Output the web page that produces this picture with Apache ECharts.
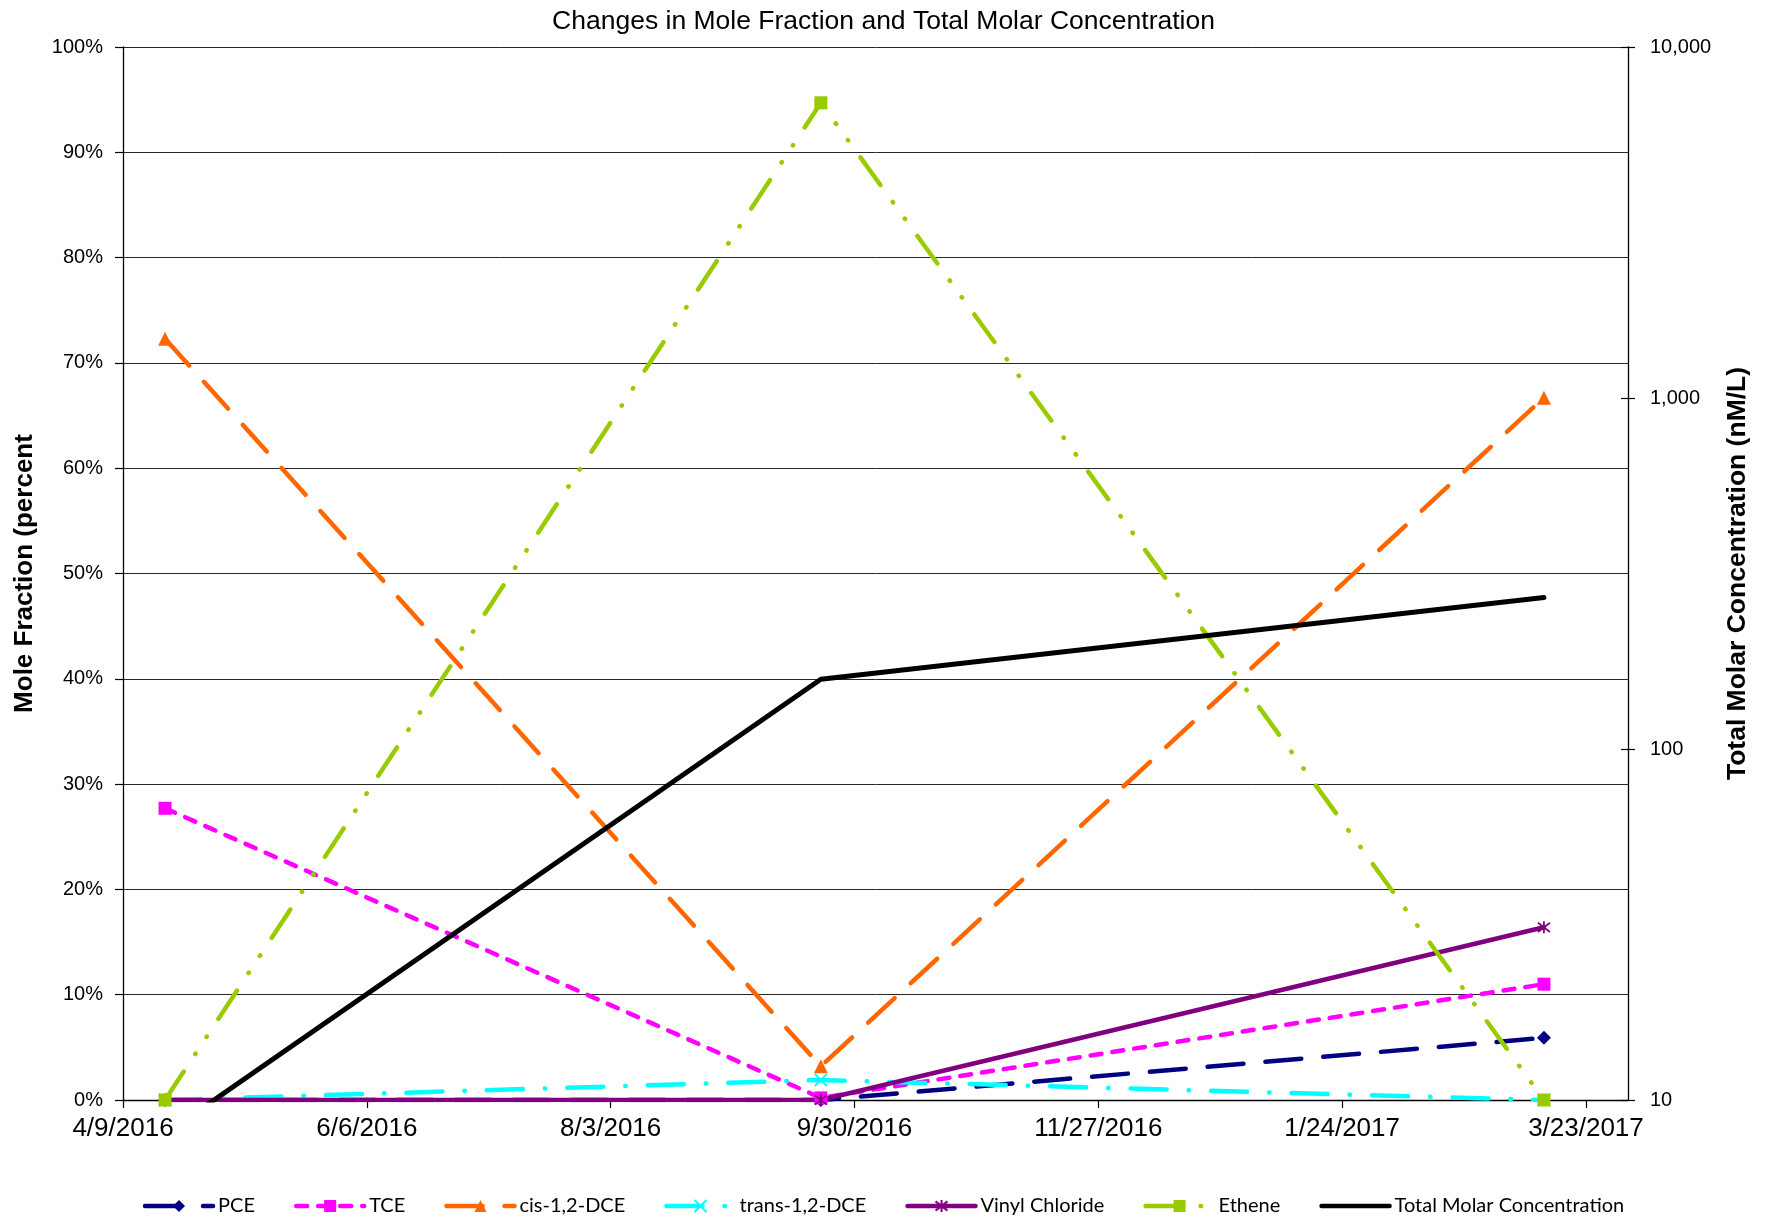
<!DOCTYPE html>
<html>
<head>
<meta charset="utf-8">
<script src="https://cdn.jsdelivr.net/npm/echarts@6/dist/echarts.min.js"></script>
<style>
html, body { margin: 0; padding: 0; background: #ffffff; }
#chart { width: 1767px; height: 1220px; }
</style>
</head>
<body>
<div id="chart"></div>
<script>
// Sampling events
const sampleDates = ['4/19/2016', '9/22/2016', '3/13/2017'];

// Mole fraction of each compound (percent of total)
const pce = [0, 0, 5.9];
const tce = [27.7, 0.2, 11.0];
const cisDce = [72.3, 3.2, 66.7];
const transDce = [0, 1.9, 0];
const vinylChloride = [0, 0, 16.4];
const ethene = [0, 94.7, 0];

// Total molar concentration (nM/L)
const totalMolar = [8.0, 158, 270];

// Date axis range and tick spacing in days
const axisStart = '4/9/2016';
const axisEnd = '4/2/2017';
const tickDays = 58;

// Concentration axis range
const concMin = 10;
const concMax = 10000;

const DAY = 86400000;
function parseDate(s) {
  const [m, d, y] = s.split('/').map(Number);
  return Date.UTC(y, m - 1, d);
}
const t0 = parseDate(axisStart);
const dayOf = s => Math.round((parseDate(s) - t0) / DAY);
function dayLabel(v) {
  const d = new Date(t0 + v * DAY);
  return (d.getUTCMonth() + 1) + '/' + d.getUTCDate() + '/' + d.getUTCFullYear();
}
const pairs = vals => sampleDates.map((s, i) => [dayOf(s), vals[i]]);

const SANS = '"Liberation Sans", Arial, sans-serif';
const CROSS = 'path://M0,0L10,10M10,0L0,10';
const ASTERISK = 'path://M0,0L10,10M10,0L0,10M5,-1.5L5,11.5';

function fractionSeries(name, vals, color, dash, symbol, size, width, stroked) {
  return {
    name: name,
    type: 'line',
    yAxisIndex: 0,
    data: pairs(vals),
    symbol: symbol,
    symbolSize: size,
    showAllSymbol: true,
    lineStyle: { color: color, width: width, type: dash, cap: 'round' },
    itemStyle: stroked
      ? { color: color, borderColor: color, borderWidth: 1.8 }
      : { color: color, borderWidth: 0 },
    emphasis: { disabled: true },
    animation: false
  };
}

const series = [
  fractionSeries('PCE', pce, '#000080', [36, 22], 'diamond', 14, 4.5, false),
  fractionSeries('TCE', tce, '#FF00FF', [11, 11], 'rect', 13, 4.5, false),
  fractionSeries('cis-1,2-DCE', cisDce, '#FF6600', [36, 22], 'triangle', 14, 4.5, false),
  fractionSeries('trans-1,2-DCE', transDce, '#00FFFF', [36, 22, 0.5, 22], CROSS, 12, 4.5, true),
  fractionSeries('Vinyl Chloride', vinylChloride, '#800080', 'solid', ASTERISK, 12, 4.5, true),
  fractionSeries('Ethene', ethene, '#99CC00', [34, 21, 0.5, 20, 0.5, 21], 'rect', 13, 4.5, false),
  {
    name: 'Total Molar Concentration',
    type: 'line',
    yAxisIndex: 1,
    data: pairs(totalMolar),
    symbol: 'circle',
    symbolSize: 0,
    showSymbol: false,
    clip: true,
    lineStyle: { color: '#000000', width: 5, type: 'solid', cap: 'round' },
    itemStyle: { color: '#000000' },
    emphasis: { disabled: true },
    animation: false
  }
];

// Legend entries: the total line shows only its stroke
const legendItems = series.map(s =>
  s.name === 'Total Molar Concentration'
    ? { name: s.name, itemStyle: { opacity: 0 } }
    : { name: s.name }
);

const concAxisBase = {
  type: 'log',
  logBase: 10,
  min: concMin,
  max: concMax,
  position: 'right'
};

const chart = echarts.init(document.getElementById('chart'), null, { renderer: 'canvas' });
chart.setOption({
  backgroundColor: '#ffffff',
  animation: false,
  title: {
    text: 'Changes in Mole Fraction and Total Molar Concentration',
    left: 'center',
    top: 8,
    padding: 0,
    textStyle: { fontFamily: SANS, fontSize: 26.5, fontWeight: 'normal', color: '#000' }
  },
  grid: { left: 123, right: 139, top: 47, bottom: 120, outerBoundsMode: 'none' },
  legend: {
    left: 'center',
    top: 1191,
    itemWidth: 68,
    itemHeight: 15,
    itemGap: 39,
    lineStyle: { width: 4.5 },
    textStyle: { fontFamily: 'Lato, "Liberation Sans", sans-serif', fontSize: 20, color: '#000' },
    data: legendItems
  },
  xAxis: {
    type: 'value',
    min: 0,
    max: dayOf(axisEnd),
    interval: tickDays,
    axisLine: { onZero: false, lineStyle: { color: '#000', width: 1.3 } },
    axisTick: { length: 8, lineStyle: { color: '#000', width: 1.2 } },
    splitLine: { show: false },
    axisLabel: {
      formatter: dayLabel,
      showMaxLabel: false,
      fontFamily: SANS,
      fontSize: 26,
      color: '#000',
      margin: 16
    }
  },
  yAxis: [
    {
      type: 'value',
      min: 0,
      max: 100,
      interval: 10,
      position: 'left',
      name: 'Mole Fraction (percent',
      nameLocation: 'middle',
      nameGap: 85,
      nameTextStyle: { fontFamily: SANS, fontSize: 26, fontWeight: 'bold', color: '#000' },
      axisLine: { show: true, lineStyle: { color: '#000', width: 1.3 } },
      axisTick: { show: true, length: 8, lineStyle: { color: '#000', width: 1.2 } },
      splitLine: { show: true, lineStyle: { color: '#262626', width: 1 } },
      axisLabel: { formatter: '{value}%', fontFamily: SANS, fontSize: 20, color: '#000', margin: 20 }
    },
    Object.assign({}, concAxisBase, {
      name: 'Total Molar Concentration (nM/L)',
      nameLocation: 'middle',
      nameGap: 96,
      nameTextStyle: { fontFamily: SANS, fontSize: 26.5, fontWeight: 'bold', color: '#000' },
      axisLine: { show: true, lineStyle: { color: '#000', width: 1.3 } },
      axisTick: { show: true, length: 7, lineStyle: { color: '#000', width: 1.2 } },
      splitLine: { show: false },
      axisLabel: {
        formatter: v => Number(v).toLocaleString('en-US'),
        fontFamily: SANS,
        fontSize: 20,
        color: '#000',
        margin: 22
      }
    }),
    // Inner half of the crossing tick marks on the concentration axis
    Object.assign({}, concAxisBase, {
      axisLine: { show: false },
      axisTick: { show: true, inside: true, length: 7, lineStyle: { color: '#000', width: 1.2 } },
      axisLabel: { show: false },
      splitLine: { show: false }
    })
  ],
  series: series
});
</script>
</body>
</html>
